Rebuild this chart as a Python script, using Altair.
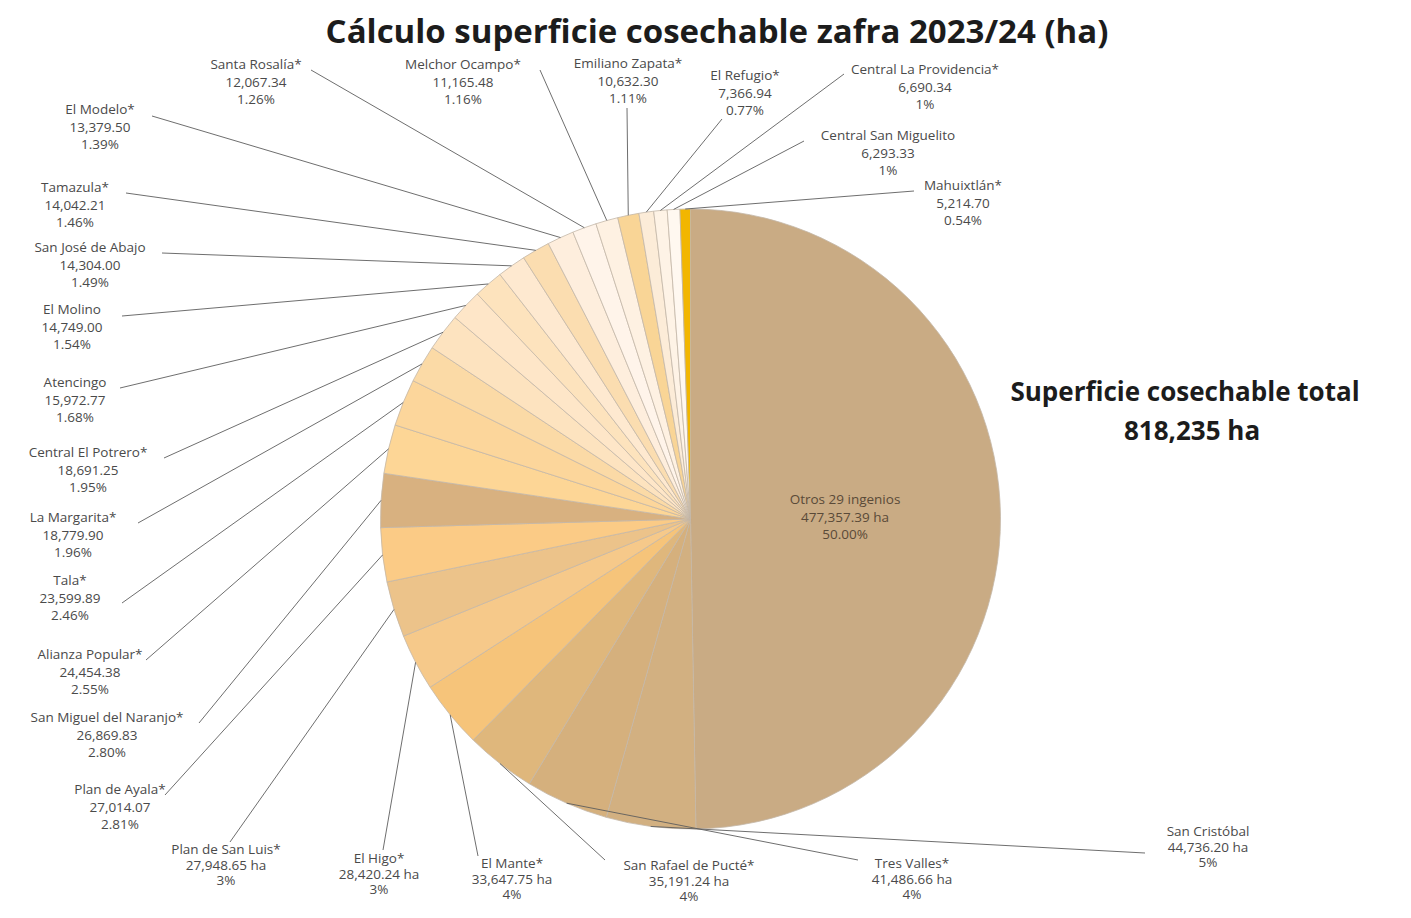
import math
import altair as alt
import pandas as pd

# ---------------- data ----------------
names = [
    "Otros 29 ingenios", "San Cristóbal", "Tres Valles*", "San Rafael de Pucté*",
    "El Mante*", "El Higo*", "Plan de San Luis*", "Plan de Ayala*",
    "San Miguel del Naranjo*", "Alianza Popular*", "Tala*", "La Margarita*",
    "Central El Potrero*", "Atencingo", "El Molino", "San José de Abajo",
    "Tamazula*", "El Modelo*", "Santa Rosalía*", "Melchor Ocampo*",
    "Emiliano Zapata*", "El Refugio*", "Central La Providencia*",
    "Central San Miguelito", "Mahuixtlán*",
]
values = [
    477357.39, 44736.20, 41486.66, 35191.24, 33647.75, 28420.24, 27948.65,
    27014.07, 26869.83, 24454.38, 23599.89, 18779.90, 18691.25, 15972.77,
    14749.00, 14304.00, 14042.21, 13379.50, 12067.34, 11165.48, 10632.30,
    7366.94, 6690.34, 6293.33, 5214.70,
]
pct_labels = [
    "50.00%", "5%", "4%", "4%", "4%", "3%", "3%", "2.81%", "2.80%", "2.55%",
    "2.46%", "1.96%", "1.95%", "1.68%", "1.54%", "1.49%", "1.46%", "1.39%",
    "1.26%", "1.16%", "1.11%", "0.77%", "1%", "1%", "0.54%",
]
units = [" ha"] * 7 + [""] * 18
total_label = "818,235 ha"
title_text = "Cálculo superficie cosechable zafra 2023/24 (ha)"

# ---------------- styles ----------------
colors = [
    "#C9AB84", "#D2B081", "#D5B07D", "#DFB77C", "#F6C47A", "#F6C98A",
    "#ECC38A", "#FBCB86", "#D8B180", "#FDD696", "#FCD69B", "#FBDAA6",
    "#FDE3BF", "#FEE6C8", "#FDE3BD", "#FEE9D0", "#FBDDB0", "#FEEEDD",
    "#FFF4EA", "#FEF1E2", "#F9D596", "#FCECD8", "#FEF3E6", "#FFF8F0",
    "#F2B600",
]
FONT = "Open Sans"
W, H = 1395, 902
CX, CY, R = 690.5, 519, 310  # pie centre / radius (page pixels)

# label layout: text centre x, first-line centre y, leader-line start, tight lines
layout = {
    "Otros 29 ingenios": (845, 502, None, False),
    "San Cristóbal": (1208, 834, (1145, 853), True),
    "Tres Valles*": (912, 866, (858, 860), True),
    "San Rafael de Pucté*": (689, 868, (605, 860), True),
    "El Mante*": (512, 866, (478, 856), True),
    "El Higo*": (379, 861, (383, 850), True),
    "Plan de San Luis*": (226, 852, (230, 842), True),
    "Plan de Ayala*": (120, 792, (165, 795), False),
    "San Miguel del Naranjo*": (107, 720, (199, 723), False),
    "Alianza Popular*": (90, 657, (146, 660), False),
    "Tala*": (70, 583, (122, 603), False),
    "La Margarita*": (73, 520, (138, 523), False),
    "Central El Potrero*": (88, 455, (164, 458), False),
    "Atencingo": (75, 385, (120, 388), False),
    "El Molino": (72, 312, (122, 316), False),
    "San José de Abajo": (90, 250, (162, 253), False),
    "Tamazula*": (75, 190, (126, 193), False),
    "El Modelo*": (100, 112, (152, 116), False),
    "Santa Rosalía*": (256, 67, (311, 70), False),
    "Melchor Ocampo*": (463, 67, (540, 70), False),
    "Emiliano Zapata*": (628, 66, (627, 108), False),
    "El Refugio*": (745, 78, (722, 119), False),
    "Central La Providencia*": (925, 72, (844, 74), False),
    "Central San Miguelito": (888, 138, (804, 141), False),
    "Mahuixtlán*": (963, 188, (914, 191), False),
}

# ---------------- derived tables ----------------
df = pd.DataFrame({"idx": range(len(names)), "name": names, "value": values})

total = sum(values)
rows_lab, rows_line = [], []
cum = 0.0
for i, (n, v) in enumerate(zip(names, values)):
    mid = (cum + v / 2) / total * 2 * math.pi
    cum += v
    tx, ty, anchor, tight = layout[n]
    txt = f"{n}\n{v:,.2f}{units[i]}\n{pct_labels[i]}"
    rows_lab.append({"name": n, "tx": tx, "ty": ty - 9, "label": txt,
                     "inside": anchor is None, "tight": tight})
    if anchor is not None:
        ex = CX + R * math.sin(mid)
        ey = CY - R * math.cos(mid)
        rows_line.append({"name": n, "x1": anchor[0], "y1": anchor[1],
                          "x2": ex, "y2": ey})

lab_df = pd.DataFrame(rows_lab)
line_df = pd.DataFrame(rows_line)

xs = alt.Scale(domain=[8, 8 + W], range=[0, W], nice=False, zero=False)
ys = alt.Scale(domain=[8, 8 + H], range=[0, H], nice=False, zero=False)

pie = alt.Chart(df).mark_arc(
    outerRadius=R, stroke="#C4B8A8", strokeWidth=0.8
).encode(
    x=alt.value(CX - 8),
    y=alt.value(CY - 8),
    theta=alt.Theta("value:Q", stack=True),
    order=alt.Order("idx:Q"),
    color=alt.Color("name:N", scale=alt.Scale(domain=names, range=colors),
                    legend=None),
)

lines = alt.Chart(line_df).mark_rule(color="#5E5E5E", strokeWidth=0.9).encode(
    x=alt.X("x1:Q", scale=xs, axis=None),
    y=alt.Y("y1:Q", scale=ys, axis=None),
    x2="x2:Q",
    y2="y2:Q",
)


def label_layer(tight):
    return alt.Chart(lab_df).transform_filter(
        "datum.tight" if tight else "!datum.tight"
    ).mark_text(
        font=FONT, fontSize=13.5, align="center", baseline="top",
        lineBreak="\n", lineHeight=15.5 if tight else 17.5,
    ).encode(
        x=alt.X("tx:Q", scale=xs, axis=None),
        y=alt.Y("ty:Q", scale=ys, axis=None),
        text="label:N",
        color=alt.condition("datum.inside", alt.value("#5A4A38"),
                            alt.value("#4A4A4A")),
    )


title_df = pd.DataFrame({"t": [title_text], "x": [717], "y": [33]})
title = alt.Chart(title_df).mark_text(
    font=FONT, fontSize=33, fontWeight="bold", color="#1C1C1C",
    align="center", baseline="middle",
).encode(
    x=alt.X("x:Q", scale=xs, axis=None),
    y=alt.Y("y:Q", scale=ys, axis=None),
    text="t:N",
)

tot_df = pd.DataFrame({"t": ["Superficie cosechable total", total_label],
                       "x": [1185, 1192], "y": [393, 432]})
tot = alt.Chart(tot_df).mark_text(
    font=FONT, fontSize=26, fontWeight="bold", color="#1C1C1C",
    align="center", baseline="middle",
).encode(
    x=alt.X("x:Q", scale=xs, axis=None),
    y=alt.Y("y:Q", scale=ys, axis=None),
    text="t:N",
)

chart = alt.layer(pie, lines, label_layer(False), label_layer(True),
                  title, tot).properties(
    width=W, height=H,
    autosize=alt.AutoSizeParams(type="none"),
    padding=0,
    background="white",
).configure_view(stroke=None)

chart.save("out.html", embed_options={"renderer": "svg", "actions": False})
